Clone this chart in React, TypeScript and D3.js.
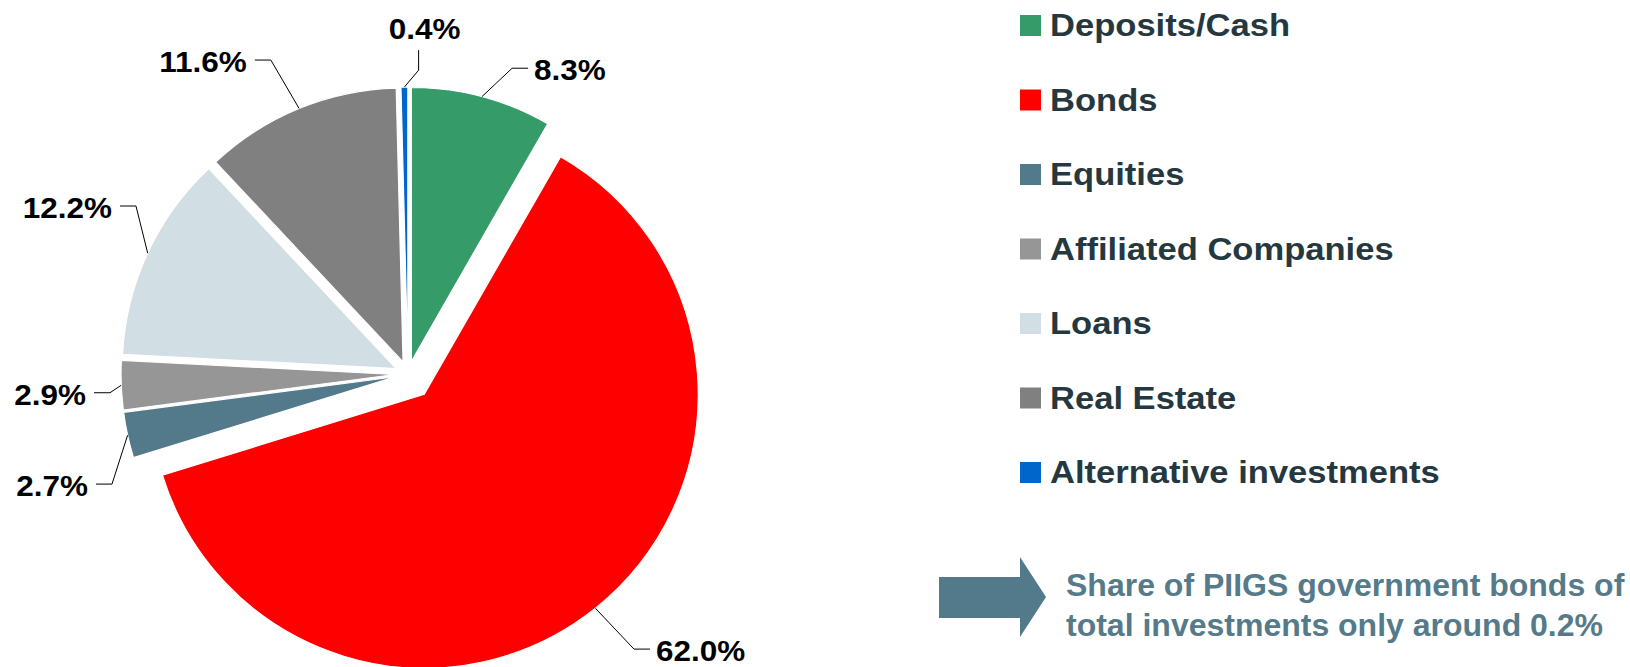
import React from "react";
import * as d3 from "d3";

// ---- data ----
const CATEGORIES = [
  "Deposits/Cash",
  "Bonds",
  "Equities",
  "Affiliated Companies",
  "Loans",
  "Real Estate",
  "Alternative investments",
];
const SHARES = [8.3, 62.0, 2.7, 2.9, 12.2, 11.6, 0.4];
const LABELS = ["8.3%", "62.0%", "2.7%", "2.9%", "12.2%", "11.6%", "0.4%"];
const NOTE_LINES = [
  "Share of PIIGS government bonds of",
  "total investments only around 0.2%",
];

// ---- styles / layout ----
const COLORS = ["#359B68", "#FF0000", "#537A8B", "#969696", "#D1DEE4", "#808080", "#0066CC"];
const EXPLODE = [13, 26, 13, 13, 13, 13, 13];
// leader elbow in polar coords around the pie centre (deg clockwise from top, radius)
const ELBOWS = [
  { a: 18.8, r: 323, side: "right" },
  { a: 140.6, r: 356, side: "right" },
  { a: 249.6, r: 315.8, side: "left" },
  { a: 266.4, r: 298.6, side: "left" },
  { a: 301.7, r: 319.7, side: "left" },
  { a: 336.4, r: 342.6, side: "left" },
  { a: 2, r: 304, side: "up" },
];

const W = 1630;
const H = 667;
const CX = 408;
const CY = 374;
const R = 274;
const FONT = "'Liberation Sans', Arial, Helvetica, sans-serif";

const polar = (deg: number, r: number, cx = CX, cy = CY) => {
  const t = (deg * Math.PI) / 180;
  return [cx + r * Math.sin(t), cy - r * Math.cos(t)];
};

export default function App() {
  const pie = d3
    .pie<number>()
    .sort(null)
    .value((d) => d)
    .startAngle(0)
    .endAngle(2 * Math.PI);
  const arcs = pie(SHARES);
  const arcGen = d3.arc<d3.PieArcDatum<number>>().innerRadius(0).outerRadius(R);

  const legendY = d3.scaleLinear().domain([0, 1]).range([15, 89.5]);
  const noteY = d3.scaleLinear().domain([0, 1]).range([596, 636]);

  const slices = arcs.map((a, i) => {
    const mid = (((a.startAngle + a.endAngle) / 2) * 180) / Math.PI;
    const [ox, oy] = polar(mid, EXPLODE[i], 0, 0);
    return { a, i, mid, ox, oy };
  });

  return (
    <svg
      width={W}
      height={H}
      style={{ position: "absolute", left: 0, top: 0, background: "#fff" }}
      fontFamily={FONT}
    >
      {slices.map(({ a, i, ox, oy }) => (
        <path
          key={CATEGORIES[i]}
          d={arcGen(a) || ""}
          transform={`translate(${CX + ox},${CY + oy})`}
          fill={COLORS[i]}
          stroke="#fff"
          strokeWidth={1.2}
        />
      ))}

      {slices.map(({ i, mid, ox, oy }) => {
        const [sx, sy] = polar(mid, R, CX + ox, CY + oy);
        const e = ELBOWS[i];
        const [ex, ey] = polar(e.a, e.r);
        let pts: number[][];
        let tx: number;
        let ty: number;
        let anchor: string;
        if (e.side === "up") {
          pts = [[sx, sy], [ex, ey], [ex, ey - 20]];
          tx = ex + 6;
          ty = ey - 31;
          anchor = "middle";
        } else if (e.side === "right") {
          pts = [[sx, sy], [ex, ey], [ex + 16, ey]];
          tx = ex + 22;
          ty = ey + 12;
          anchor = "start";
        } else {
          pts = [[sx, sy], [ex, ey], [ex - 16, ey]];
          tx = ex - 24;
          ty = ey + 12;
          anchor = "end";
        }
        return (
          <g key={"lab" + i}>
            <polyline
              points={pts.map((p) => p.join(",")).join(" ")}
              fill="none"
              stroke="#000"
              strokeWidth={1}
            />
            <g transform={`translate(${tx},${ty}) scale(1.086,1)`}>
              <text
                x={0}
                y={0}
                textAnchor={anchor}
                fontSize={29}
                fontWeight="bold"
                fill="#000"
              >
                {LABELS[i]}
              </text>
            </g>
          </g>
        );
      })}

      {CATEGORIES.map((c, i) => (
        <g key={"leg" + c}>
          <rect x={1020} y={legendY(i)} width={21} height={21} fill={COLORS[i]} />
          <g transform={`translate(1050,${legendY(i) + 21}) scale(1.08,1)`}>
            <text x={0} y={0} fontSize={32} fontWeight="bold" fill="#253840">
              {c}
            </text>
          </g>
        </g>
      ))}

      <path
        d="M939,577 L1020,577 L1020,557 L1046,597 L1020,637 L1020,618 L939,618 Z"
        fill="#537A8B"
      />
      {NOTE_LINES.map((t, i) => (
        <text
          key={"note" + i}
          x={1066}
          y={noteY(i)}
          fontSize={32}
          fontWeight="bold"
          fill="#557A8A"
        >
          {t}
        </text>
      ))}
    </svg>
  );
}
